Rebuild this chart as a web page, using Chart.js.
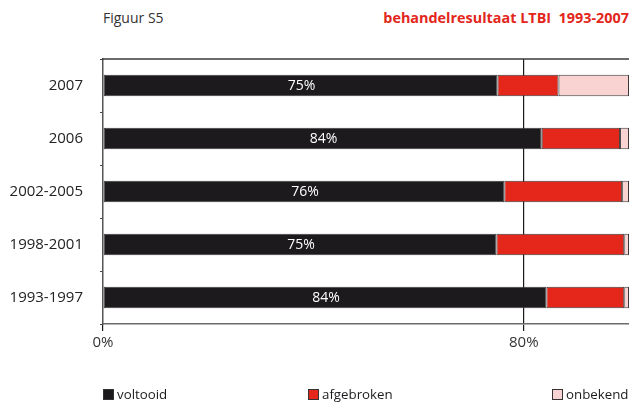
<!DOCTYPE html>
<html>
<head>
<meta charset="utf-8">
<script src="https://cdn.jsdelivr.net/npm/chart.js@4"></script>
<style>
  html, body { margin: 0; padding: 0; background: #fff; overflow: hidden; }
  #wrap { position: relative; width: 629px; height: 404px; font-family: "Open Sans", sans-serif; }
  #chart { position: absolute; left: 0; top: 0; }
  .head { position: absolute; top: 8px; font-size: 14px; line-height: 20px; white-space: pre; }
  #fig { left: 103px; color: #333; }
  #ttl { right: 0; color: #e3261b; font-weight: bold; font-size: 14.4px; }
  .leg { position: absolute; top: 384px; font-size: 13.3px; line-height: 20px; color: #1c1a1d; white-space: nowrap; }
  .leg i { display: inline-block; width: 9px; height: 9px; border: 1px solid #333; margin-right: 3px; vertical-align: -1px; }
</style>
</head>
<body>
<div id="wrap">
  <div class="head" id="fig">Figuur S5</div>
  <div class="head" id="ttl">behandelresultaat LTBI  1993-2007</div>
  <canvas id="chart" width="629" height="404"></canvas>
  <div id="legend"></div>
</div>
<script>
const categories = ['2007', '2006', '2002-2005', '1998-2001', '1993-1997'];
const voltooid = [75.0, 83.4, 76.3, 74.8, 84.3];
const afgebroken = [11.6, 14.9, 22.4, 24.3, 14.8];
const onbekend = [13.4, 1.7, 1.3, 0.9, 0.9];
const voltooidLabels = ['75%', '84%', '76%', '75%', '84%'];
const seriesNames = ['voltooid', 'afgebroken', 'onbekend'];
const seriesColors = ['#1c1a1d', '#e4261b', '#f9d3d2'];
const xTicks = [0, 80];
const legendX = [103, 308, 552];

// witte percentages in het voltooid-segment
const barLabels = {
    id: 'barLabels',
    afterDatasetsDraw(chart) {
        const ctx = chart.ctx;
        const meta = chart.getDatasetMeta(0);
        ctx.save();
        ctx.fillStyle = '#fff';
        ctx.font = '14px "Open Sans"';
        ctx.textAlign = 'center';
        ctx.textBaseline = 'middle';
        meta.data.forEach((bar, i) => {
            ctx.fillText(voltooidLabels[i], (bar.x + bar.base) / 2 + 1, bar.y + 1);
        });
        ctx.restore();
    }
};

// bovenste kaderlijn van het plotgebied
const topFrame = {
    id: 'topFrame',
    afterDraw(chart) {
        const { ctx, chartArea } = chart;
        ctx.save();
        ctx.strokeStyle = '#3a3a3a';
        ctx.lineWidth = 1.5;
        ctx.beginPath();
        ctx.moveTo(chartArea.left - 1, chartArea.top);
        ctx.lineTo(chartArea.right, chartArea.top);
        ctx.stroke();
        ctx.restore();
    }
};

const datasets = [voltooid, afgebroken, onbekend].map((d, i) => ({
    label: seriesNames[i],
    data: d,
    backgroundColor: seriesColors[i],
    borderColor: '#3a3a3a',
    borderWidth: 1,
    borderSkipped: false,
    categoryPercentage: 1,
    barPercentage: 0.41
}));

new Chart(document.getElementById('chart'), {
    type: 'bar',
    data: { labels: categories, datasets: datasets },
    options: {
        indexAxis: 'y',
        responsive: false,
        animation: false,
        layout: { padding: { top: 59, left: 0, right: 0, bottom: 0 } },
        plugins: { legend: { display: false }, tooltip: { enabled: false } },
        scales: {
            x: {
                stacked: true,
                min: 0,
                max: 100,
                afterBuildTicks: s => { s.ticks = xTicks.map(v => ({ value: v })); },
                afterFit: s => { s.height = 80; },
                grid: {
                    color: c => c.tick && c.tick.value === 0 ? 'rgba(0,0,0,0)' : '#1a1a1a',
                    lineWidth: 1.2,
                    tickLength: 7,
                    tickColor: '#1a1a1a'
                },
                border: { display: true, color: '#6b6b6b', width: 1.5 },
                ticks: {
                    padding: 3,
                    color: '#333',
                    font: { family: 'Open Sans', size: 15 },
                    callback: v => v + '%'
                }
            },
            y: {
                stacked: true,
                afterFit: s => { s.width = 103; },
                grid: { drawOnChartArea: false, tickLength: 3, color: '#444' },
                border: { display: true, color: '#555', width: 1.5 },
                ticks: {
                    padding: 17,
                    color: '#222',
                    font: { family: 'Open Sans', size: 15 }
                }
            }
        }
    },
    plugins: [barLabels, topFrame]
});

// legenda
const legend = document.getElementById('legend');
seriesNames.forEach((name, i) => {
    const el = document.createElement('div');
    el.className = 'leg';
    el.style.left = legendX[i] + 'px';
    el.innerHTML = '<i style="background:' + seriesColors[i] + '"></i>' + name;
    legend.appendChild(el);
});
</script>
</body>
</html>
